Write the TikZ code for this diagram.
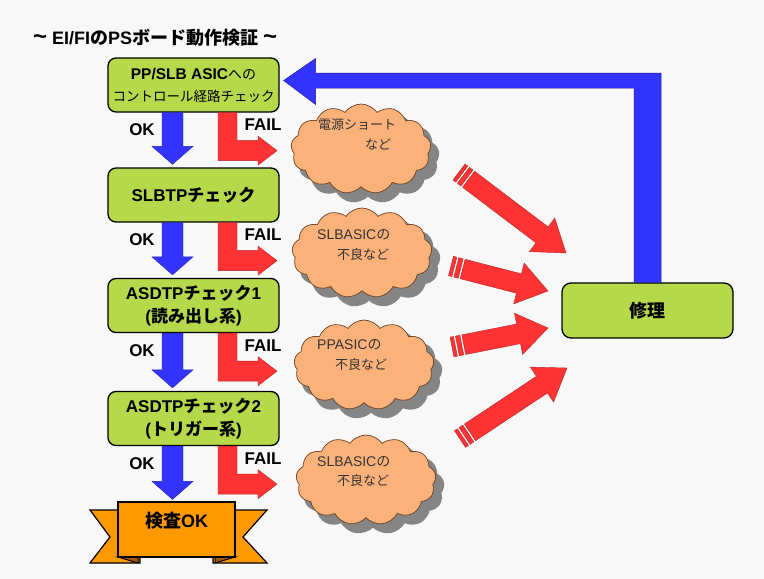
\documentclass[tikz,border=0pt]{standalone}
\usepackage{fontspec}
\setmainfont{Liberation Sans}
\newfontfamily\jp{Noto Sans CJK JP}
\usetikzlibrary{shapes.symbols,shapes.geometric,calc}
\definecolor{bg}{HTML}{F8F8F8}
\definecolor{boxgreen}{HTML}{B6D84B}
\definecolor{arrblue}{HTML}{3333FF}
\definecolor{arrred}{HTML}{FF3333}
\definecolor{cloudor}{HTML}{FAB27A}
\definecolor{cloudline}{HTML}{6A4020}
\definecolor{shadegray}{HTML}{858585}
\definecolor{banor}{HTML}{FF9900}
\definecolor{bandark}{HTML}{A05A00}
\tikzset{
  gbox/.style={draw=black, line width=1.3pt, fill=boxgreen, rounded corners=8pt,
    minimum width=171pt, minimum height=54pt, align=center, inner sep=0pt,
    font=\fontsize{17}{23}\selectfont\bfseries},
  lbl/.style={font=\fontsize{17}{20}\selectfont\bfseries, inner sep=0pt},
  okarr/.style={fill=arrblue, draw=arrblue!70!black, line width=0.4pt},
  failarr/.style={fill=arrred, draw=arrred!70!black, line width=0.4pt},
  cloudbase/.style={shape=cloud, cloud puffs=13, cloud puff arc=110, aspect=1.6,
    minimum width=140pt, minimum height=90pt, inner sep=0pt},
  cloudshape/.style={cloudbase, fill=cloudor, draw=cloudline, line width=0.7pt},
  cloudshade/.style={cloudbase, fill=shadegray, draw=shadegray, line width=3pt},
  ctext/.style={anchor=west, font=\jp\fontsize{13}{15}\selectfont, text=black!80, inner sep=0pt},
}
\newcommand\okarrow[2]{%
  \draw[okarr] let \p1=(#1), \p2=(#2) in
    (\x1-10.5pt,\y1) -- (\x1-10.5pt,\y2+18pt) -- (\x1-20.5pt,\y2+18pt) -- (\p2)
    -- (\x1+20.5pt,\y2+18pt) -- (\x1+10.5pt,\y2+18pt) -- (\x1+10.5pt,\y1) -- cycle;}
\newcommand\failarrow[2]{%
  \draw[failarr] let \p1=(#1), \p2=(#2) in
    (\x1-9.5pt,\y1) -- (\x1-9.5pt,\y2-10pt) -- (\x2-19pt,\y2-10pt) -- (\x2-19pt,\y2-14.5pt)
    -- (\p2) -- (\x2-19pt,\y2+14.5pt) -- (\x2-19pt,\y2+10pt) -- (\x1+9.5pt,\y2+10pt)
    -- (\x1+9.5pt,\y1) -- cycle;}
\newcommand\stripedarrow[2]{%
  \pgfpointdiff{\pgfpointanchor{#1}{center}}{\pgfpointanchor{#2}{center}}%
  \pgfgetlastxy{\sdx}{\sdy}%
  \pgfmathsetmacro\sang{atan2(\sdy,\sdx)}%
  \pgfmathsetmacro\slen{veclen(\sdx,\sdy)}%
  \begin{scope}[shift={(#1)}, rotate=\sang, x=1pt, y=1pt]
    \draw[failarr] (0,-10) rectangle (3.5,10);
    \draw[failarr] (5.5,-10) rectangle (10,10);
    \draw[failarr] (12,-10) -- (\slen-30,-10) -- (\slen-30,-21) -- (\slen,0)
      -- (\slen-30,21) -- (\slen-30,10) -- (12,10) -- cycle;
  \end{scope}}
\newcommand\bigtilde{{\fontsize{24}{20}\selectfont\symbol{126}}}
\begin{document}
\begin{tikzpicture}[x=1pt,y=-1pt]
\fill[bg] (0,0) rectangle (764,579);
\useasboundingbox (0,0) rectangle (764,579);

% title
\node[anchor=west, inner sep=0pt, font=\fontsize{18}{20}\selectfont\bfseries] (title) at (33,38)
  {\bigtilde\ EI/FI{\jp の}PS{\jp ボード動作検証} \bigtilde};

% boxes
\node[gbox] (b1) at (193.5,85)
  {{\fontsize{15.5}{18}\selectfont PP/SLB ASIC{\jp\mdseries\fontsize{14}{18}\selectfont への}}\\[-1pt]
   {\jp\mdseries\fontsize{13.5}{18}\selectfont コントロール経路チェック}};
\node[gbox] (b2) at (193.5,195) {SLBTP{\jp チェック}};
\node[gbox] (b3) at (193.5,305.5) {ASDTP{\jp チェック}1\\({\jp 読み出し系})};
\node[gbox] (b4) at (193.5,418.5) {ASDTP{\jp チェック}2\\({\jp トリガー系})};
\node[gbox, rounded corners=9pt, minimum height=55pt] (rep) at (647.5,310.5)
  {\fontsize{18}{20}\selectfont\jp 修理};

% banner
\filldraw[fill=banor, draw=black, line width=1.2pt]
  (140,510) -- (90,510) -- (110,537) -- (90,563) -- (140,563) -- cycle;
\filldraw[fill=banor, draw=black, line width=1.2pt]
  (213,510) -- (267,510) -- (243,537) -- (267,563) -- (213,563) -- cycle;
\filldraw[fill=bandark, draw=black, line width=1pt] (118,557) -- (138,563) -- (138,557) -- cycle;
\filldraw[fill=bandark, draw=black, line width=1pt] (235,557) -- (215,563) -- (215,557) -- cycle;
\node[draw=black, line width=1.2pt, fill=banor, minimum width=117pt, minimum height=55pt,
  inner sep=0pt] (okb) at (176.5,529.5) {};
\node[inner sep=0pt, font=\fontsize{18}{20}\selectfont\bfseries] (okt) at (176.5,521) {{\jp 検査}OK};

% OK arrows
\foreach \a/\b in {b1/b2, b2/b3, b3/b4}{
  \coordinate (s-\a) at ($(\a.south)+(-21,0)$);
  \coordinate (e-\a) at ($(\b.north)+(-21,-3)$);
  \okarrow{s-\a}{e-\a}
}
\coordinate (s-b4) at ($(b4.south)+(-21,0)$);
\coordinate (e-b4) at ($(okb.north)+(-4,-2)$);
\okarrow{s-b4}{e-b4}

% FAIL arrows and labels
\foreach \a in {b1,b2,b3,b4}{
  \coordinate (fs-\a) at ($(\a.south)+(34,0)$);
  \coordinate (ft-\a) at ($(\a.south)+(83.5,38)$);
  \failarrow{fs-\a}{ft-\a}
  \node[lbl] (ok-\a) at ($(\a.south)+(-51.5,17)$) {OK};
  \node[lbl] (fail-\a) at ($(\a.south)+(69.5,12)$) {FAIL};
}

% clouds, shadow first
\node[cloudshade] (c1s) at (368,157) {};
\node[cloudshade] (c2s) at (369,261) {};
\node[cloudshade] (c3s) at (371,373) {};
\node[cloudshade] (c4s) at (373,488) {};
\node[cloudshape] (c1) at (361,149) {};
\node[cloudshape] (c2) at (362,253) {};
\node[cloudshape] (c3) at (364,365) {};
\node[cloudshape] (c4) at (366,480) {};
\node[ctext] (t1a) at (318,125) {電源ショート};
\node[ctext] (t1b) at (365,145) {など};
\node[ctext] (t2a) at (317,235) {\fontsize{14}{15}\selectfont\rmfamily SLBASIC{\jp の}};
\node[ctext] (t2b) at (337,255) {不良など};
\node[ctext] (t3a) at (317,345) {\fontsize{14}{15}\selectfont\rmfamily PPASIC{\jp の}};
\node[ctext] (t3b) at (335,365) {不良など};
\node[ctext] (t4a) at (317,462) {\fontsize{14}{15}\selectfont\rmfamily SLBASIC{\jp の}};
\node[ctext] (t4b) at (337,481) {不良など};

% striped arrows to repair
\coordinate (dA0) at (459,172); \coordinate (dA1) at (566,253);
\coordinate (dB0) at (451,266); \coordinate (dB1) at (548,291);
\coordinate (dC0) at (452,347); \coordinate (dC1) at (548,328);
\coordinate (dD0) at (460,439); \coordinate (dD1) at (567,368);
\stripedarrow{dA0}{dA1}
\stripedarrow{dB0}{dB1}
\stripedarrow{dC0}{dC1}
\stripedarrow{dD0}{dD1}

% feedback arrow
\coordinate (fbtip) at ($(b1.east)+(4,-4.5)$);
\draw[fill=arrblue, draw=arrblue!60!black, line width=0.5pt] let \p1=(rep.north), \p2=(fbtip) in
  (\x1-13.5pt,\y1) -- (\x1-13.5pt,\y2-7.5pt) -- (\x2+32pt,\y2-7.5pt) -- (\x2+32pt,\y2-24pt)
  -- (\p2) -- (\x2+32pt,\y2+22pt) -- (\x2+32pt,\y2+7.5pt) -- (\x1+13.5pt,\y2+7.5pt)
  -- (\x1+13.5pt,\y1) -- cycle;
\end{tikzpicture}
\end{document}
